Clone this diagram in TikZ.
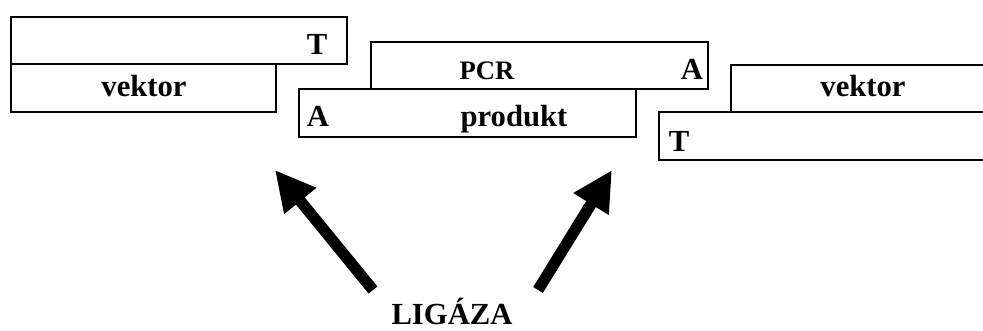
\documentclass[tikz,border=0pt]{standalone}
\usepackage{fontspec}
\setmainfont{Liberation Serif}
\usetikzlibrary{arrows.meta}

\tikzset{
    strand/.style={line width=1.1pt},
    lbl/.style={inner sep=0pt, anchor=base, font=\bfseries\fontsize{23}{23}\selectfont},
    smalllbl/.style={lbl, font=\bfseries\fontsize{20}{20}\selectfont},
    bigarrow/.style={line width=8.5pt, -{Triangle[length=30pt, width=29pt]}}
}

\begin{document}
\begin{tikzpicture}[x=0.75pt, y=-0.75pt]

    % Fix the frame of the picture
    \useasboundingbox (0,0) rectangle (983,331);
    \clip (0,0) rectangle (983,331);

    % Draw the left vector ends
    \draw[strand] (11,17) rectangle (347,64);
    \draw[strand] (11,64) rectangle (276,112);

    % Draw the PCR product
    \draw[strand] (371,42) rectangle (708,89);
    \draw[strand] (299,89) rectangle (636,137);

    % Draw the right vector ends (cut by the edge)
    \draw[strand] (731,65) rectangle (1000,112);
    \draw[strand] (659,112) rectangle (1000,160);

    % Add labels for the strands
    \node[lbl] (tL) at (317,55) {T};
    \node[lbl] (vekL) at (144,97) {vektor};
    \node[smalllbl] (pcr) at (487,80) {PCR};
    \node[lbl] (aTop) at (692,80) {A};
    \node[lbl] (aBot) at (318,127) {A};
    \node[lbl] (prod) at (514,127) {produkt};
    \node[lbl] (vekR) at (863,97) {vektor};
    \node[lbl] (tR) at (679,152) {T};

    % Add the ligase label
    \node[lbl] (lig) at (452,325) {LIGÁZA};

    % Arrow ends
    \coordinate (tailL) at (373,290);
    \coordinate (tipL) at (275,170);
    \coordinate (tailR) at (538,290);
    \coordinate (tipR) at (612,170);

    % Draw the arrows to the joints
    \draw[bigarrow] (tailL) -- (tipL);
    \draw[bigarrow] (tailR) -- (tipR);

\end{tikzpicture}
\end{document}
